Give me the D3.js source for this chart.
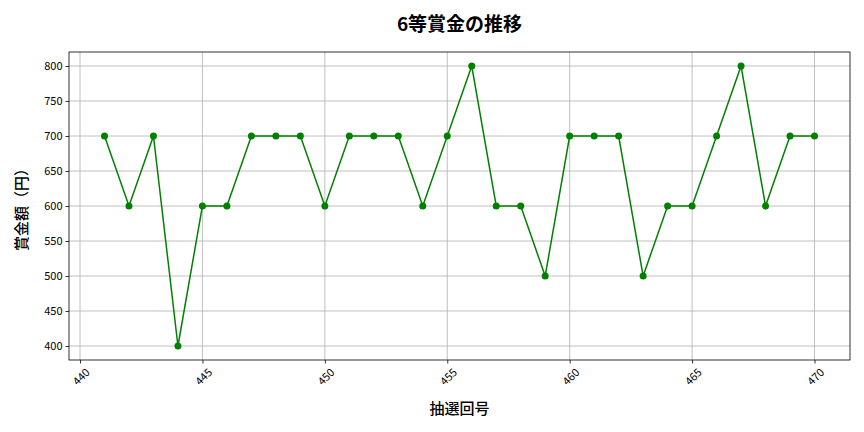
<!DOCTYPE html>
<meta charset="utf-8">
<title>6等賞金の推移</title>
<style>
body { margin: 0; background: #fff; }
text { font-family: "Noto Sans CJK JP", "DejaVu Sans", sans-serif; fill: #000; }
.grid line { stroke: #b0b0b0; stroke-width: 0.8; }
</style>
<body>
<svg id="chart" width="864" height="432"></svg>
<script src="https://d3js.org/d3.v7.min.js"></script>
<script>
// draw numbers and 6th prize amounts (yen)
var draws = [441,442,443,444,445,446,447,448,449,450,451,452,453,454,455,
             456,457,458,459,460,461,462,463,464,465,466,467,468,469,470];
var prizes = [700,600,700,400,600,600,700,700,700,600,700,700,700,600,700,
              800,600,600,500,700,700,700,500,600,600,700,800,600,700,700];
var xTicks = [440,445,450,455,460,465,470];
var yTicks = [400,450,500,550,600,650,700,750,800];

var svg = d3.select("#chart");
// plot box (window.top is reserved, so use other names)
var plotL = 69, plotR = 850, plotT = 52, plotB = 360;

var x = d3.scaleLinear().domain([439.55, 471.45]).range([plotL, plotR]);
var y = d3.scaleLinear().domain([380, 820]).range([plotB, plotT]);

// grid
var grid = svg.append("g").attr("class", "grid");
grid.selectAll("line.v").data(xTicks).enter().append("line")
  .attr("x1", d => x(d)).attr("x2", d => x(d))
  .attr("y1", plotT).attr("y2", plotB);
grid.selectAll("line.h").data(yTicks).enter().append("line")
  .attr("x1", plotL).attr("x2", plotR)
  .attr("y1", d => y(d)).attr("y2", d => y(d));

// axes
var xAxis = svg.append("g")
  .attr("transform", "translate(0," + plotB + ")")
  .call(d3.axisBottom(x).tickValues(xTicks).tickSize(3.5).tickPadding(3));
xAxis.selectAll("text")
  .style("font-size", "11px")
  .attr("text-anchor", "end")
  .attr("dx", "-0.2em").attr("dy", "0.9em")
  .attr("transform", "rotate(-45)");

var yAxis = svg.append("g")
  .attr("transform", "translate(" + plotL + ",0)")
  .call(d3.axisLeft(y).tickValues(yTicks).tickSize(3.5).tickPadding(3));
yAxis.selectAll("text").style("font-size", "11px");

svg.selectAll(".domain").remove();
svg.selectAll(".tick line").attr("stroke", "#000").attr("stroke-width", 0.8);

// frame
svg.append("rect")
  .attr("x", plotL).attr("y", plotT)
  .attr("width", plotR - plotL).attr("height", plotB - plotT)
  .attr("fill", "none").attr("stroke", "#000").attr("stroke-width", 0.8);

// line + markers
var line = d3.line().x((d, i) => x(draws[i])).y(d => y(d));
svg.append("path").datum(prizes)
  .attr("d", line)
  .attr("fill", "none").attr("stroke", "green").attr("stroke-width", 1.5);
svg.selectAll("circle").data(prizes).enter().append("circle")
  .attr("cx", (d, i) => x(draws[i])).attr("cy", d => y(d))
  .attr("r", 3.5).attr("fill", "green");

// titles
svg.append("text").attr("x", (plotL + plotR) / 2).attr("y", 31)
  .attr("text-anchor", "middle").style("font-size", "19px")
  .style("font-weight", "bold")
  .text("6等賞金の推移");
svg.append("text").attr("x", (plotL + plotR) / 2).attr("y", 414)
  .attr("text-anchor", "middle").style("font-size", "15px")
  .style("font-weight", "500")
  .text("抽選回号");
svg.append("text")
  .attr("transform", "translate(27," + ((plotT + plotB) / 2) + ") rotate(-90)")
  .attr("text-anchor", "middle").style("font-size", "15px")
  .style("font-weight", "500")
  .text("賞金額（円）");
</script>
</body>
